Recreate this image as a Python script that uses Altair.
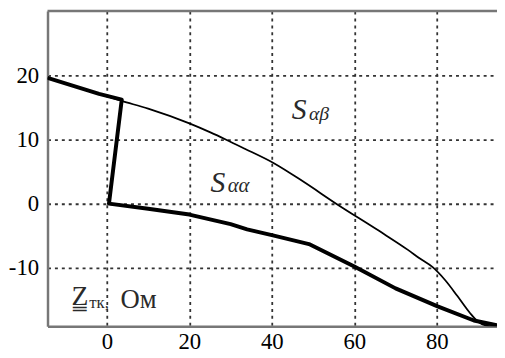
import altair as alt
import pandas as pd

# thin curve S_ab boundary
thin_x = [-14.4, -1.9, 3.6, 10, 20, 25.1, 28.8, 33.3, 40.5, 47.7, 55.6, 65.9, 73, 76, 79, 82, 85, 88, 90, 92, 95]
thin_y = [19.6, 17.1, 16.0, 14.8, 12.5, 11.1, 10.0, 8.6, 6.3, 3.4, 0.0, -4.2, -7.2, -8.6, -9.9, -11.9, -14.4, -17.0, -18.4, -19.0, -19.2]

# thick path S_aa boundary
thick_x = [-14.4, -1.9, 3.6, 0.5, 10, 20, 30, 34, 40, 49, 60, 70, 80.2, 89, 95]
thick_y = [19.6, 17.1, 16.2, 0.0, -0.8, -1.7, -3.2, -4.0, -4.9, -6.3, -9.8, -13.2, -16.0, -18.2, -19.0]

x_ticks = [0, 20, 40, 60, 80]
y_ticks = [-10, 0, 10, 20]
X_DOM = [-14.4, 94.6]
Y_DOM = [-19.1, 30]

W, H = 455, 319
SERIF = "Liberation Serif, Times New Roman, serif"

thin = pd.DataFrame({"x": thin_x, "y": thin_y, "i": range(len(thin_x))})
thick = pd.DataFrame({"x": thick_x, "y": thick_y, "i": range(len(thick_x))})

xs = alt.Scale(domain=X_DOM, nice=False, zero=False)
ys = alt.Scale(domain=Y_DOM, nice=False, zero=False)

common = dict(title=None, grid=True, ticks=False, domain=True,
              domainColor="#777", domainWidth=2.5, gridColor="#333", gridDash=[3, 4],
              gridWidth=1.8, labelFont=SERIF, labelFontSize=23, labelColor="black",
              labelExpr="'' + datum.value")
xax = alt.Axis(values=x_ticks, labelPadding=5, **common)
yax = alt.Axis(values=y_ticks, labelPadding=9, **common)

base_axes = alt.Chart(thin).mark_line(strokeWidth=1.8, color="black", clip=True,
                                      interpolate="monotone").encode(
    x=alt.X("x:Q", scale=xs, axis=xax),
    y=alt.Y("y:Q", scale=ys, axis=yax),
    order="i:Q",
)

thick_line = alt.Chart(thick).mark_line(strokeWidth=4, color="black", clip=True,
                                         strokeJoin="round").encode(
    x=alt.X("x:Q", scale=xs),
    y=alt.Y("y:Q", scale=ys),
    order="i:Q",
)

top = alt.Chart(pd.DataFrame({"a": [0]})).mark_rule(color="#777", strokeWidth=2.5).encode(
    x=alt.value(0), x2=alt.value(W), y=alt.value(0)
)

def txt(x, y, t, size, style="italic"):
    return alt.Chart(pd.DataFrame({"x": [x], "y": [y], "t": [t]})).mark_text(
        align="left", baseline="alphabetic", font=SERIF, fontSize=size,
        fontStyle=style, color="#2a2a2a"
    ).encode(x=alt.X("x:Q", scale=xs), y=alt.Y("y:Q", scale=ys), text="t:N")

labels = [
    txt(44.8, 13.2, "S", 30),
    txt(49.0, 13.0, "αβ", 20),
    txt(25.1, 1.85, "S", 30),
    txt(29.3, 1.8, "αα", 21),
    txt(-8.6, -15.85, "Z\u0333", 28, "normal"),
    txt(-4.3, -16.3, "тк,", 17, "normal"),
    txt(3.3, -16.3, "Ом", 27, "normal"),
]

chart = alt.layer(base_axes, thick_line, top, *labels).properties(
    width=W, height=H,
    autosize=alt.AutoSizeParams(type="none"),
    padding={"left": 40, "top": 1, "right": 0, "bottom": 30},
).configure_view(stroke=None)

chart.save("out.html", embed_options={"renderer": "svg", "actions": False})
